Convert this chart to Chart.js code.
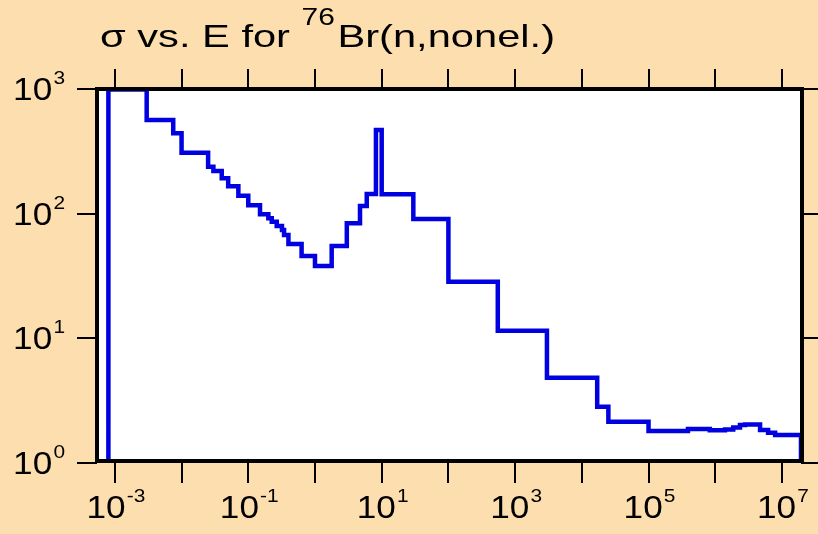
<!DOCTYPE html>
<html>
<head>
<meta charset="utf-8">
<script src="https://cdn.jsdelivr.net/npm/chart.js@4"></script>
<style>
  html, body { margin: 0; padding: 0; background: #fddeae; }
  canvas { display: block; }
</style>
</head>
<body>
<canvas id="myChart" width="818" height="534"></canvas>
<script>
// bin edges (eV) and cross section (b)
let binEdges = [8e-4, 3e-3, 7.5e-3, 1e-2, 2.5e-2, 3e-2, 4e-2, 5e-2, 7.1e-2, 0.1,
    0.15, 0.2, 0.225, 0.267, 0.32, 0.344, 0.4, 0.63, 1.0, 1.78,
    3.0, 4.73, 5.97, 8.2, 10, 29.8, 100, 550, 3000, 1.7e4,
    2.5e4, 1e5, 3.9e5, 8.3e5, 1.4e6, 1.86e6, 2.35e6, 2.8e6, 4.7e6, 6.2e6,
    7.9e6, 1.93e7]
let sigmaValues = [990, 563, 441, 308, 238, 220, 192, 166, 139, 117,
    99, 92, 86, 79.6, 74, 67.3, 57, 45.7, 38, 55,
    83.6, 115, 144, 468, 143, 90.5, 28.4, 11.5, 4.83, 2.83,
    2.14, 1.81, 1.87, 1.83, 1.86, 1.93, 2.02, 2.04, 1.84, 1.75,
    1.68]
let xRange = [5.4e-4, 1.93e7]
let yRange = [1, 1000]
let xTickExps = [-3, -2, -1, 0, 1, 2, 3, 4, 5, 6, 7]
let xLabelExps = [-3, -1, 1, 3, 5, 7]
let yTickExps = [0, 1, 2, 3]
let titleText = ["σ vs. E for ", "76", "Br(n,nonel.)"]

// build step points: up from the floor, one point per bin, back down at the end
function createData(){
    let pts = [{x: binEdges[0], y: yRange[0]}]
    for (var i in sigmaValues){
        pts.push({x: binEdges[i], y: sigmaValues[i]})
    }
    let last = binEdges.length - 1
    pts.push({x: binEdges[last], y: sigmaValues[sigmaValues.length - 1]})
    pts.push({x: binEdges[last], y: yRange[0]})
    return pts
}

function decadeTicks(exps){
    return function(scale){
        scale.ticks = exps.map(e => ({value: Math.pow(10, e)}))
    }
}

function axis(pos, range, exps, size){
    let horiz = pos == 'top' || pos == 'bottom'
    return {
        type: 'logarithmic',
        position: pos,
        min: range[0],
        max: range[1],
        afterBuildTicks: decadeTicks(exps),
        afterFit: function(s){ if(horiz){ s.height = size }else{ s.width = size } },
        border: {display: false},
        grid: {drawOnChartArea: false, drawTicks: true, tickLength: 20, lineWidth: 2, color: '#000'},
        ticks: {callback: () => '', autoSkip: false}
    }
}

// draw "10" with a superscript exponent, stretched a bit sideways like the original
function drawPow(ctx, exp, x, y, align){
    let sx = 1.1
    ctx.font = '32px "Liberation Sans", Arial, sans-serif'
    let w1 = ctx.measureText('10').width
    ctx.font = '19px "Liberation Sans", Arial, sans-serif'
    let sup = String(exp)
    let w2 = ctx.measureText(sup).width
    let total = (w1 + 1 + w2) * sx
    let x0 = align == 'center' ? x - total / 2 : x - total
    ctx.save()
    ctx.translate(x0, y)
    ctx.scale(sx, 1)
    ctx.fillStyle = '#000'
    ctx.textAlign = 'left'
    ctx.textBaseline = 'alphabetic'
    ctx.font = '32px "Liberation Sans", Arial, sans-serif'
    ctx.fillText('10', 0, 0)
    ctx.font = '19px "Liberation Sans", Arial, sans-serif'
    ctx.fillText(sup, w1 + 1, -16)
    ctx.restore()
}

const decorPlugin = {
    id: 'decor',
    beforeDatasetsDraw(chart){
        let ca = chart.chartArea, ctx = chart.ctx
        ctx.save()
        ctx.fillStyle = '#ffffff'
        ctx.fillRect(ca.left, ca.top, ca.right - ca.left, ca.bottom - ca.top)
        ctx.restore()
    },
    afterDraw(chart){
        let ca = chart.chartArea, ctx = chart.ctx
        let xs = chart.scales.x, ys = chart.scales.y
        ctx.save()
        //frame
        ctx.strokeStyle = '#000'
        ctx.lineWidth = 4
        ctx.strokeRect(ca.left, ca.top, ca.right - ca.left + 1, ca.bottom - ca.top - 2)

        xLabelExps.forEach(e => {
            drawPow(ctx, e, xs.getPixelForValue(Math.pow(10, e)) + 1, ca.bottom + 55, 'center')
        })
        yTickExps.forEach(e => {
            drawPow(ctx, e, 65, ys.getPixelForValue(Math.pow(10, e)) + 11, 'right')
        })

        //title, stretched to the original width
        ctx.fillStyle = '#000'
        ctx.textBaseline = 'alphabetic'
        ctx.font = '32px "Liberation Sans", Arial, sans-serif'
        let a = ctx.measureText(titleText[0]).width
        let c = ctx.measureText(titleText[2]).width
        ctx.font = '23px "Liberation Sans", Arial, sans-serif'
        let b = ctx.measureText(titleText[1]).width
        let sx = 455 / (a + b + c + 2)
        ctx.translate(100, 47)
        ctx.scale(sx, 1)
        ctx.font = '32px "Liberation Sans", Arial, sans-serif'
        ctx.fillText(titleText[0], 0, 0)
        ctx.font = '23px "Liberation Sans", Arial, sans-serif'
        ctx.fillText(titleText[1], a, -22)
        ctx.font = '32px "Liberation Sans", Arial, sans-serif'
        ctx.fillText(titleText[2], a + b + 2, 0)
        ctx.restore()
    }
}

new Chart("myChart", {
    type: "line",
    data: {
        datasets: [{
            data: createData(),
            borderColor: "#0000e0",
            borderWidth: 4.5,
            pointRadius: 0,
            stepped: true,
            fill: false
        }]
    },
    options: {
        responsive: false,
        animation: false,
        devicePixelRatio: 1,
        layout: {padding: 0},
        plugins: {legend: {display: false}, tooltip: {enabled: false}, title: {display: false}},
        scales: {
            x: axis('bottom', xRange, xTickExps, 71),
            x2: axis('top', xRange, xTickExps, 89),
            y: axis('left', yRange, yTickExps, 97),
            y2: axis('right', yRange, yTickExps, 17)
        }
    },
    plugins: [decorPlugin]
})
</script>
</body>
</html>
